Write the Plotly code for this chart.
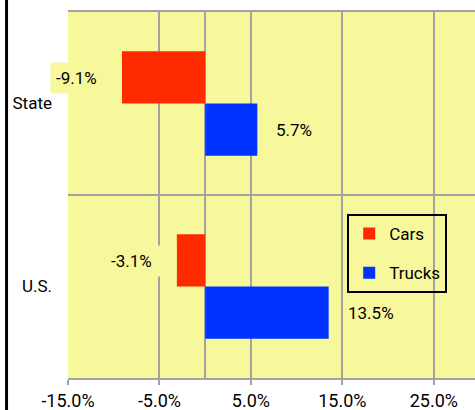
import plotly.graph_objects as go

# data
regions = ["State", "U.S."]
cars = [-9.1, -3.1]
trucks = [5.7, 13.5]
x_ticks = [-15, -5, 5, 15, 25]
x_tick_labels = ["-15.0%", "-5.0%", "5.0%", "15.0%", "25.0%"]

FONT = "Roboto"
FS = 17
BG = "#f7f89c"
GRID = "#a3a3a3"

fig = go.Figure()

fig.add_trace(go.Bar(
    y=regions, x=cars, name="Cars", orientation="h",
    marker=dict(color="#ff2a00", line_width=0),
    legendrank=1, legendgroup="cars",
))
fig.add_trace(go.Bar(
    y=regions, x=trucks, name="Trucks", orientation="h",
    marker=dict(color="#0033ff", line_width=0),
    legendrank=2, legendgroup="trucks",
))

# value labels
for reg, v in zip(regions, cars):
    fig.add_annotation(
        x=v, y=reg, text=f"{v:.1f}%", showarrow=False,
        xanchor="right", yshift=26, width=60, align="left",
        borderpad=5, bgcolor=BG,
        font=dict(family=FONT, size=FS, color="black"),
    )
for reg, v in zip(regions, trucks):
    fig.add_annotation(
        x=v, y=reg, text=f"{v:.1f}%", showarrow=False,
        xanchor="left", xshift=17, yshift=-26,
        font=dict(family=FONT, size=FS, color="black"),
    )

# black frame edge at left of the image
fig.add_shape(type="line", xref="paper", yref="paper",
              x0=-0.151, x1=-0.151, y0=-0.2, y1=1.2,
              line=dict(color="black", width=3))

fig.update_layout(
    width=475, height=410,
    margin=dict(l=68, r=0, t=12, b=32),
    paper_bgcolor="white",
    plot_bgcolor=BG,
    barmode="group",
    bargap=0.43,
    bargroupgap=0,
    font=dict(family=FONT, size=FS, color="black"),
    showlegend=True,
    legend=dict(
        x=0.686, y=0.448, xanchor="left", yanchor="top",
        bgcolor="rgba(0,0,0,0)", bordercolor="black", borderwidth=2,
        traceorder="grouped", tracegroupgap=14,
        font=dict(family=FONT, size=FS),
        itemwidth=30,
    ),
    xaxis=dict(
        range=[-15, 29.5],
        tickvals=x_ticks, ticktext=x_tick_labels,
        tickfont=dict(size=18),
        showgrid=True, gridcolor=GRID, gridwidth=2,
        zeroline=True, zerolinecolor=GRID, zerolinewidth=2,
        showline=True, linecolor=GRID, linewidth=2, mirror=True,
        ticks="outside", ticklen=5, tickcolor=GRID, tickwidth=2,
        ticklabelstandoff=0,
        automargin=False,
        fixedrange=True,
    ),
    yaxis=dict(
        autorange="reversed",
        tickson="boundaries",
        showgrid=True, gridcolor=GRID, gridwidth=2,
        ticks="", ticklabelstandoff=15,
        showline=False,
        automargin=False,
        fixedrange=True,
    ),
)

# page has a default body margin; drop it so the figure sits at the corner
fig.write_html("out.html", config={"displayModeBar": False},
               post_script="document.body.style.margin='0';")
